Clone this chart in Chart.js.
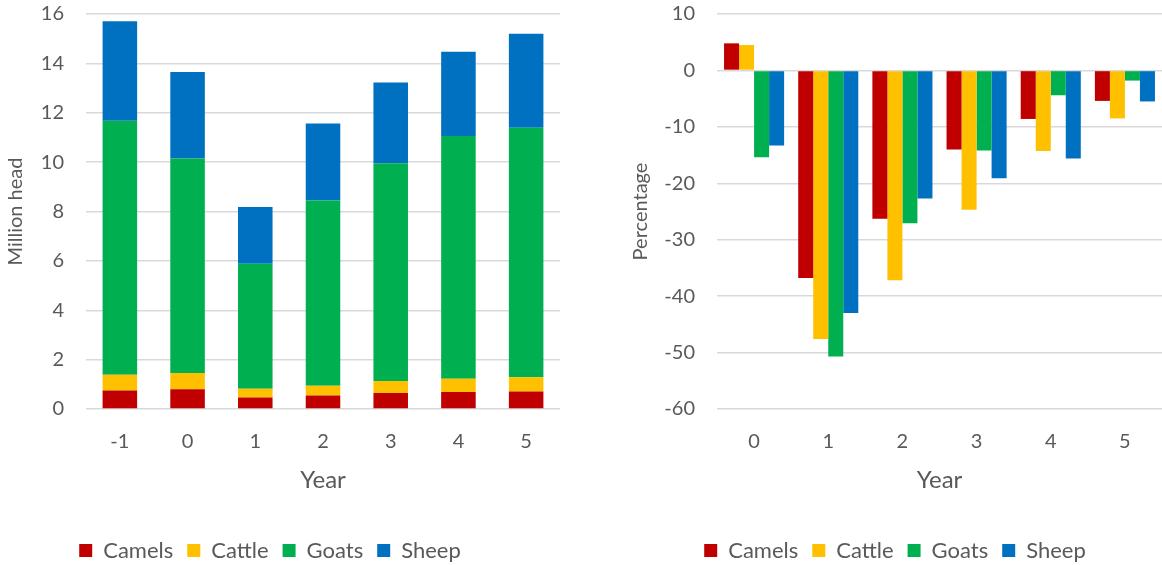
<!DOCTYPE html>
<html>
<head>
<meta charset="utf-8">
<script src="https://cdn.jsdelivr.net/npm/chart.js@4.4.1/dist/chart.umd.min.js"></script>
<style>
  html, body { margin: 0; padding: 0; background: #fff; }
  #wrap { position: relative; width: 1162px; height: 565px; }
  .box { position: absolute; top: 0; height: 565px; }
  #left { left: 0; width: 560px; }
  #right { left: 580px; width: 582px; }
</style>
</head>
<body>
<div id="wrap">
  <div class="box" id="left"><canvas id="heads"></canvas></div>
  <div class="box" id="right"><canvas id="change"></canvas></div>
</div>
<script>
const species = ["Camels", "Cattle", "Goats", "Sheep"];
const colours = ["#C00000", "#FFC000", "#00B050", "#0070C0"];

// left: livestock numbers, million head
const headYears = ["-1", "0", "1", "2", "3", "4", "5"];
const camelsHead = [0.75, 0.80, 0.47, 0.55, 0.65, 0.69, 0.71];
const cattleHead = [0.64, 0.66, 0.35, 0.39, 0.48, 0.54, 0.58];
const goatsHead = [10.29, 8.69, 5.06, 7.51, 8.82, 9.83, 10.10];
const sheepHead = [4.03, 3.50, 2.30, 3.11, 3.28, 3.41, 3.81];

// right: change against year -1, percent
const changeYears = ["0", "1", "2", "3", "4", "5"];
const camelsChange = [4.8, -36.8, -26.3, -14.0, -8.6, -5.4];
const cattleChange = [4.5, -47.6, -37.2, -24.7, -14.3, -8.5];
const goatsChange = [-15.4, -50.7, -27.1, -14.2, -4.4, -1.8];
const sheepChange = [-13.3, -43.0, -22.7, -19.1, -15.6, -5.5];

const textColour = "#595959";
const gridColour = "#D9D9D9";
Chart.defaults.font.family = "Lato";
Chart.defaults.color = textColour;

// moves the legend box after layout, so it sits where the original has it
const legendShift = {
  id: "legendShift",
  afterLayout(chart, args, opts) {
    const lg = chart.legend;
    lg.left += opts.dx; lg.right += opts.dx;
    lg.top += opts.dy; lg.bottom += opts.dy;
  }
};

function makeSets(lists, extra) {
  return lists.map((values, i) => Object.assign({
    label: species[i],
    data: values,
    backgroundColor: colours[i],
    borderWidth: 0
  }, extra));
}

function baseOptions(yTitle, yMin, yMax, yStep, yWidth, shift) {
  return {
    responsive: true,
    maintainAspectRatio: false,
    animation: false,
    layout: { padding: { top: 14, bottom: 0 } },
    plugins: {
      legend: {
        position: "bottom",
        labels: { boxWidth: 13, boxHeight: 13, padding: 14, font: { size: 22 } }
      },
      tooltip: { enabled: false },
      legendShift: shift
    },
    scales: {
      x: {
        grid: { display: false, drawTicks: false },
        border: { display: false },
        ticks: { font: { size: 20 }, padding: 21 },
        title: { display: true, text: "Year", font: { size: 24 }, padding: { top: 0, bottom: 24.6 } },
        afterFit(scale) { scale.height = 110; }
      },
      y: {
        min: yMin,
        max: yMax,
        ticks: { stepSize: yStep, font: { size: 20 }, padding: 22 },
        grid: { color: gridColour, lineWidth: 1.5, drawTicks: false },
        border: { display: false },
        title: { display: true, text: yTitle, font: { size: 20 }, padding: { top: 4, bottom: 0 } },
        afterFit(scale) {
          scale.width = yWidth;
          scale.paddingTop = 0;
          scale.paddingBottom = 0;
        }
      }
    }
  };
}

const headOpts = baseOptions("Million head", 0, 16, 2, 86, { dx: -10, dy: 6.5 });
headOpts.scales.x.stacked = true;
headOpts.scales.y.stacked = true;
new Chart(document.getElementById("heads"), {
  type: "bar",
  data: {
    labels: headYears,
    datasets: makeSets([camelsHead, cattleHead, goatsHead, sheepHead],
      { barPercentage: 0.51, categoryPercentage: 1.0 })
  },
  options: headOpts,
  plugins: [legendShift]
});

const changeOpts = baseOptions("Percentage", -60, 10, 10, 137, { dx: 24, dy: 6.5 });
changeOpts.scales.y.title.padding = { top: 49, bottom: 0 };
new Chart(document.getElementById("change"), {
  type: "bar",
  data: {
    labels: changeYears,
    datasets: makeSets([camelsChange, cattleChange, goatsChange, sheepChange],
      { barPercentage: 1.0, categoryPercentage: 0.81 })
  },
  options: changeOpts,
  plugins: [legendShift]
});
</script>
</body>
</html>
